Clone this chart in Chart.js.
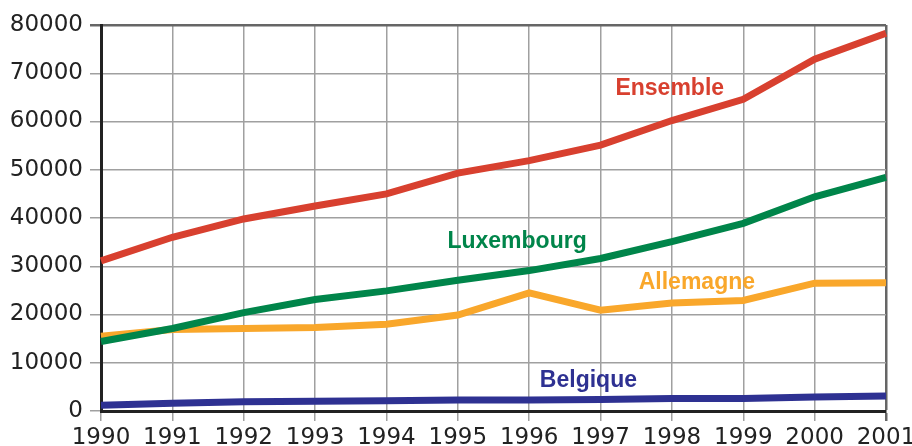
<!DOCTYPE html>
<html>
<head>
<meta charset="utf-8">
<script src="https://cdn.jsdelivr.net/npm/chart.js@4.4.1/dist/chart.umd.min.js"></script>
<style>
  html, body { margin: 0; padding: 0; background: #fff; }
  #wrap { width: 912px; height: 446px; position: relative; }
</style>
</head>
<body>
<div id="wrap"><canvas id="chart"></canvas></div>
<script>
// ── Data ──
const years = ['1990','1991','1992','1993','1994','1995','1996','1997','1998','1999','2000','2001'];
const ensemble   = [31100, 36000, 39800, 42500, 45000, 49300, 51900, 55100, 60200, 64600, 72900, 78300];
const luxembourg = [14400, 17100, 20400, 23100, 24900, 27100, 29100, 31600, 35100, 38900, 44400, 48400];
const allemagne  = [15500, 16900, 17100, 17300, 18000, 19900, 24500, 20900, 22400, 22900, 26500, 26600];
const belgique   = [1200, 1600, 1900, 2000, 2100, 2300, 2300, 2400, 2600, 2600, 2900, 3100];
const yTicks = [0, 10000, 20000, 30000, 40000, 50000, 60000, 70000, 80000];

// series label positions: [text, colour, x index, y value]
const seriesLabels = [
  ['Ensemble',   '#d8402f', 7.97, 66900],
  ['Luxembourg', '#00854a', 5.83, 35000],
  ['Allemagne',  '#f9a72b', 8.35, 26500],
  ['Belgique',   '#2e3192', 6.83, 6200]
];

const labelPlugin = {
  id: 'seriesLabels',
  afterDatasetsDraw(chart) {
    const { ctx, scales: { x, y } } = chart;
    ctx.save();
    ctx.font = 'bold 23px "Liberation Sans", Arial, sans-serif';
    ctx.textAlign = 'center';
    ctx.textBaseline = 'middle';
    seriesLabels.forEach(([txt, col, xi, yv]) => {
      ctx.fillStyle = col;
      ctx.fillText(txt, x.getPixelForValue(xi), y.getPixelForValue(yv));
    });
    ctx.restore();
  }
};

const line = (label, data, color) => ({
  label, data,
  borderColor: color,
  backgroundColor: color,
  borderWidth: 7,
  tension: 0,
  pointRadius: 0,
  borderJoinStyle: 'miter',
  borderCapStyle: 'butt',
  fill: false
});

// top and right edges of the frame are a darker grey than the grid
const isLastX = c => c.index === years.length - 1;
const isTopY = c => c.tick && c.tick.value === 80000;

new Chart(document.getElementById('chart'), {
  type: 'line',
  data: {
    labels: years,
    datasets: [
      line('Ensemble', ensemble, '#d8402f'),
      line('Luxembourg', luxembourg, '#00854a'),
      line('Allemagne', allemagne, '#f9a72b'),
      line('Belgique', belgique, '#2e3192')
    ]
  },
  options: {
    responsive: true,
    maintainAspectRatio: false,
    animation: false,
    layout: { autoPadding: false, padding: { left: 0, top: 25, right: 26, bottom: 0 } },
    plugins: { legend: { display: false }, tooltip: { enabled: false } },
    scales: {
      x: {
        offset: false,
        afterFit: s => { s.height = 35; s.paddingLeft = 0; s.paddingRight = 0; },
        grid: {
          color: c => isLastX(c) ? '#666' : '#a0a0a0',
          lineWidth: c => isLastX(c) ? 2.5 : 1.5,
          tickLength: 10
        },
        border: { color: '#222', width: 3 },
        ticks: {
          color: '#222', padding: 3, maxRotation: 0, autoSkip: false,
          font: { family: '"DejaVu Sans", sans-serif', size: 23 }
        }
      },
      y: {
        min: 0, max: 80000,
        afterFit: s => { s.width = 101; s.paddingTop = 0; s.paddingBottom = 0; },
        afterBuildTicks: s => { s.ticks = yTicks.map(v => ({ value: v })); },
        grid: {
          color: c => isTopY(c) ? '#666' : '#a0a0a0',
          lineWidth: c => isTopY(c) ? 2.5 : 1.5,
          tickLength: 11
        },
        border: { color: '#222', width: 3 },
        ticks: {
          color: '#222', padding: 7,
          callback: v => String(v),
          font: { family: '"DejaVu Sans", sans-serif', size: 23 }
        }
      }
    }
  },
  plugins: [labelPlugin]
});
</script>
</body>
</html>
